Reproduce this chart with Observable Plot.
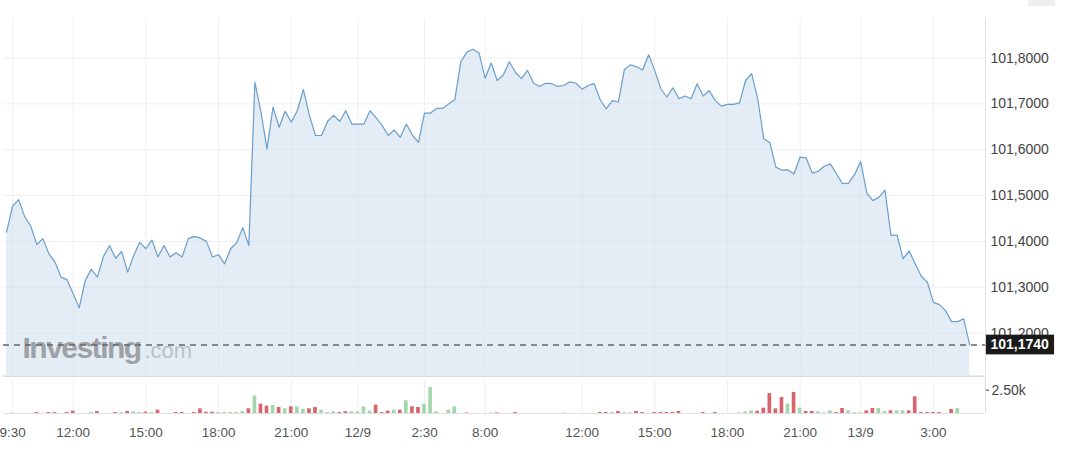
<!DOCTYPE html>
<html><head><meta charset="utf-8">
<script src="https://cdn.jsdelivr.net/npm/d3@7"></script>
<script src="https://cdn.jsdelivr.net/npm/@observablehq/plot@0.6"></script>
<style>
body{margin:0;background:#fff;font-family:"Liberation Sans",Arial,sans-serif;}
#wrap{position:relative;width:1065px;height:451px;overflow:hidden;}
#wrap svg{display:block;}
#btn{position:absolute;left:1028px;top:0;width:27px;height:6px;background:#eeeeee;}
</style></head><body><div id="wrap"></div>
<script>
// 15-minute closes (bar index order)
const prices = [
101.420,101.477,101.491,101.454,101.433,101.393,101.406,101.373,101.355,101.322,
101.316,101.286,101.255,101.315,101.339,101.322,101.367,101.391,101.363,101.378,
101.333,101.369,101.398,101.384,101.403,101.366,101.391,101.366,101.375,101.366,
101.406,101.411,101.407,101.400,101.366,101.371,101.351,101.384,101.397,101.430,
101.391,101.747,101.682,101.602,101.693,101.649,101.684,101.660,101.685,101.731,
101.675,101.631,101.631,101.662,101.675,101.662,101.685,101.656,101.656,101.656,
101.685,101.670,101.653,101.631,101.643,101.627,101.656,101.632,101.616,101.680,
101.680,101.690,101.690,101.700,101.709,101.792,101.813,101.819,101.811,101.756,
101.789,101.751,101.763,101.792,101.769,101.755,101.773,101.745,101.738,101.745,
101.744,101.738,101.740,101.748,101.745,101.732,101.740,101.744,101.709,101.689,
101.707,101.704,101.775,101.785,101.781,101.774,101.807,101.773,101.733,101.715,
101.735,101.711,101.717,101.711,101.744,101.717,101.729,101.707,101.695,101.699,
101.699,101.702,101.751,101.766,101.711,101.624,101.615,101.562,101.555,101.556,
101.547,101.584,101.582,101.549,101.553,101.564,101.569,101.547,101.526,101.527,
101.546,101.574,101.506,101.489,101.496,101.512,101.413,101.414,101.362,101.379,
101.351,101.324,101.311,101.267,101.262,101.249,101.225,101.225,101.231,101.174
];
const volumes = [
0,35,0,0,0,100,0,100,100,0,
100,250,0,0,100,215,0,0,100,100,
215,180,100,140,100,360,0,0,100,100,
0,100,500,140,140,100,100,100,100,215,
500,1860,1000,785,860,640,500,715,715,430,
500,640,360,100,180,100,180,180,180,715,
250,900,100,250,360,360,1360,715,640,1000,
2790,180,0,360,715,0,50,0,0,0,
35,70,0,0,100,0,0,0,0,0,
0,0,35,0,0,0,0,0,100,100,
100,215,70,70,215,100,0,100,100,100,
100,215,0,0,0,100,0,100,0,0,
0,70,180,285,250,570,2140,500,1710,1000,
2250,570,215,215,180,70,285,100,535,285,
70,70,285,535,535,215,285,285,285,285,
1785,100,100,100,100,0,430,535,0,0
];
const volDir = [
"u","u","u","u","u","d","u","d","d","u",
"d","d","u","u","u","d","u","u","d","u",
"d","u","u","d","u","d","u","u","d","d",
"u","d","d","d","d","u","u","u","u","u",
"d","u","d","d","u","d","u","d","u","u",
"d","d","u","u","u","d","d","u","u","u",
"u","d","d","d","u","d","u","d","d","u",
"u","u","u","u","u","u","d","u","u","u",
"u","d","u","u","d","u","u","u","u","u",
"u","u","u","u","u","u","u","u","d","d",
"u","d","u","u","d","d","u","d","d","d",
"d","d","u","u","u","d","u","d","u","u",
"u","u","u","u","d","d","d","d","d","u",
"d","u","d","d","u","u","u","d","d","u",
"u","u","d","d","u","u","d","u","u","d",
"d","d","d","d","d","u","d","u","u","u"
];
const tickIdx = [1, 11, 23, 35, 47, 58, 69, 79, 95, 107, 119, 131, 141, 153];
const tickLabels = ["9:30","12:00","15:00","18:00","21:00","12/9","2:30","8:00","12:00","15:00","18:00","21:00","13/9","3:00"];
const priceTicks = [101.2, 101.3, 101.4, 101.5, 101.6, 101.7, 101.8];
const volTicks = [2500];
const lastPrice = 101.174;

const data = prices.map((p, i) => ({i, p, v: volumes[i], d: volDir[i]}));
const xDomain = [-0.5, 161.6];
const yDomain = [101.1075, 101.8862];
const vDomain = [0, 3857];
const fmt = d => d.toFixed(4).replace(".", ",");
const labelOf = new Map(tickIdx.map((t, k) => [t, tickLabels[k]]));
const font = "'Liberation Sans', Arial, sans-serif";
const common = {width: 1065, marginLeft: 3, marginRight: 80};

const pricePlot = Plot.plot({
  ...common, height: 377, marginTop: 18, marginBottom: 2,
  style: {fontFamily: font, fontSize: "14px", background: "transparent"},
  x: {domain: xDomain, axis: null, label: null},
  y: {domain: yDomain, axis: null, label: null},
  marks: [
    Plot.ruleY(priceTicks, {stroke: "#efefef"}),
    Plot.ruleX(tickIdx, {stroke: "#eef0f2"}),
    Plot.areaY(data, {x: "i", y1: yDomain[0], y2: "p", fill: "#c9dcec", fillOpacity: 0.5}),
    Plot.line(data, {x: "i", y: "p", stroke: "#6a9fcc", strokeWidth: 1.2}),
    Plot.text(["Investing"], {frameAnchor: "bottom-left", text: d => d, dx: 19, dy: -27, textAnchor: "start", lineAnchor: "middle", fontSize: 30, fontWeight: "bold", fill: "#9ea2a6"}),
    Plot.text([".com"], {frameAnchor: "bottom-left", text: d => d, dx: 141, dy: -25, textAnchor: "start", lineAnchor: "middle", fontSize: 22, fill: "#bcc0c4"}),
    Plot.ruleY([lastPrice], {stroke: "#666", strokeDasharray: "6,5", strokeWidth: 1.5}),
    Plot.ruleY([yDomain[0]], {stroke: "#d6dce2", strokeWidth: 2, dy: 1}),
    Plot.ruleX([xDomain[1]], {stroke: "#e2e2e2"}),
    Plot.axisY(priceTicks, {anchor: "right", label: null, tickSize: 0, tickPadding: 5, tickFormat: fmt, color: "#444", fontSize: 14}),
    Plot.rect([lastPrice], {x1: xDomain[1] + 0.15, x2: xDomain[1] + 11.4, y1: d => d - 0.0215, y2: d => d + 0.0215, fill: "#1a1a1a"}),
    Plot.text([lastPrice], {x: xDomain[1], y: d => d, text: fmt, textAnchor: "start", dx: 5, fill: "white", fontWeight: "bold", fontSize: 14})
  ]
});

const volPlot = Plot.plot({
  ...common, height: 74, marginTop: 0, marginBottom: 38,
  style: {fontFamily: font, fontSize: "14px", background: "transparent"},
  x: {domain: xDomain, axis: null, label: null},
  y: {domain: vDomain, axis: null, label: null},
  color: {type: "identity"},
  marks: [
    Plot.ruleX(tickIdx, {y1: vDomain[0], y2: vDomain[1], stroke: "#eeeeee", insetBottom: -3}),
    Plot.rectY(data, {x1: d => d.i - 0.3, x2: d => d.i + 0.3, y1: 0, y2: "v", fill: d => d.d === "u" ? "#a3d6ab" : "#d9646b"}),
    Plot.ruleY([0], {stroke: "#e0e0e0"}),
    Plot.ruleX([xDomain[1]], {y1: vDomain[0], y2: vDomain[1], stroke: "#e0e0e0"}),
    Plot.axisY(volTicks, {anchor: "right", label: null, tickSize: 3, tickPadding: 3, tickFormat: d => (d / 1000).toFixed(2) + "k", color: "#444", fontSize: 14}),
    Plot.axisX(tickIdx, {anchor: "bottom", label: null, tickSize: 0, tickPadding: 14, tickFormat: d => labelOf.get(d), color: "#555", fontSize: 13.5})
  ]
});

const wrap = document.getElementById("wrap");
wrap.appendChild(pricePlot);
wrap.appendChild(volPlot);
d3.select(pricePlot).selectAll("text").filter(function() { return this.textContent === "Investing"; }).attr("letter-spacing", "-1.5");
const btn = document.createElement("div"); btn.id = "btn"; wrap.appendChild(btn);
</script></body></html>
